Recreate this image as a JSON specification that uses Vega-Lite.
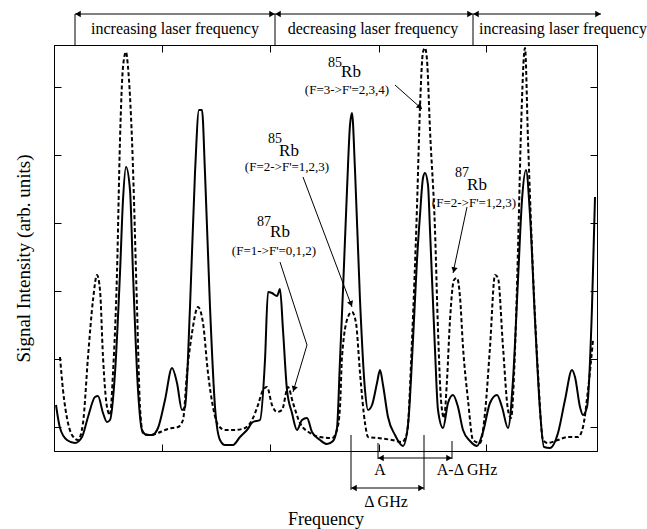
{
"$schema":"https://vega.github.io/schema/vega-lite/v6.json",
"width":543,"height":406,
"autosize":{"type":"none"},
"padding":{"left":54,"top":45,"right":50,"bottom":78},
"background":"white",
"config":{
 "view":{"stroke":"black","strokeWidth":1},
 "axis":{"domainColor":"black","tickColor":"black","domainWidth":1,"tickWidth":1,"labels":false,"grid":false,"titleFont":"Liberation Serif","titleFontWeight":"normal","titleColor":"black"}
},
"datasets":{
 "solid":[{"x":2,"y":46},{"x":6,"y":23},{"x":13,"y":11},{"x":21,"y":8},{"x":28,"y":14},{"x":34,"y":34},{"x":41,"y":54},{"x":44,"y":55},{"x":49,"y":38},{"x":53,"y":29},{"x":56,"y":31},{"x":61,"y":78},{"x":66,"y":178},{"x":69,"y":251},{"x":72,"y":284},{"x":76,"y":261},{"x":79,"y":178},{"x":84,"y":61},{"x":88,"y":21},{"x":93,"y":16},{"x":98,"y":16},{"x":104,"y":23},{"x":111,"y":51},{"x":118,"y":83},{"x":123,"y":68},{"x":128,"y":41},{"x":131,"y":44},{"x":136,"y":144},{"x":141,"y":278},{"x":145,"y":341},{"x":148,"y":341},{"x":151,"y":278},{"x":156,"y":144},{"x":161,"y":44},{"x":166,"y":11},{"x":171,"y":6},{"x":179,"y":6},{"x":186,"y":14},{"x":193,"y":21},{"x":199,"y":29},{"x":206,"y":31},{"x":211,"y":91},{"x":214,"y":159},{"x":218,"y":158},{"x":223,"y":155},{"x":226,"y":162},{"x":229,"y":121},{"x":233,"y":61},{"x":238,"y":38},{"x":243,"y":21},{"x":248,"y":31},{"x":253,"y":33},{"x":258,"y":19},{"x":266,"y":11},{"x":273,"y":7},{"x":279,"y":10},{"x":283,"y":23},{"x":286,"y":91},{"x":289,"y":161},{"x":293,"y":261},{"x":296,"y":326},{"x":298,"y":338},{"x":301,"y":281},{"x":306,"y":151},{"x":311,"y":61},{"x":314,"y":41},{"x":318,"y":46},{"x":323,"y":68},{"x":326,"y":81},{"x":329,"y":66},{"x":334,"y":34},{"x":341,"y":16},{"x":349,"y":5},{"x":354,"y":26},{"x":359,"y":111},{"x":363,"y":191},{"x":366,"y":236},{"x":369,"y":273},{"x":371,"y":278},{"x":374,"y":266},{"x":376,"y":221},{"x":381,"y":101},{"x":384,"y":41},{"x":389,"y":23},{"x":394,"y":48},{"x":399,"y":56},{"x":404,"y":44},{"x":409,"y":21},{"x":416,"y":10},{"x":423,"y":5},{"x":429,"y":19},{"x":436,"y":48},{"x":443,"y":56},{"x":448,"y":44},{"x":454,"y":23},{"x":459,"y":71},{"x":464,"y":171},{"x":468,"y":251},{"x":472,"y":281},{"x":476,"y":236},{"x":481,"y":131},{"x":486,"y":41},{"x":490,"y":4},{"x":496,"y":3},{"x":504,"y":18},{"x":511,"y":51},{"x":518,"y":81},{"x":521,"y":74},{"x":526,"y":44},{"x":529,"y":36},{"x":533,"y":44},{"x":538,"y":144},{"x":541,"y":254}],
 "dashed":[{"x":6,"y":94},{"x":9,"y":61},{"x":14,"y":28},{"x":18,"y":16},{"x":24,"y":11},{"x":29,"y":28},{"x":34,"y":94},{"x":39,"y":151},{"x":43,"y":176},{"x":46,"y":161},{"x":49,"y":94},{"x":53,"y":44},{"x":56,"y":36},{"x":59,"y":78},{"x":63,"y":178},{"x":66,"y":311},{"x":69,"y":384},{"x":72,"y":399},{"x":74,"y":384},{"x":78,"y":311},{"x":83,"y":144},{"x":86,"y":44},{"x":89,"y":18},{"x":96,"y":16},{"x":104,"y":18},{"x":111,"y":21},{"x":118,"y":23},{"x":124,"y":24},{"x":129,"y":31},{"x":133,"y":78},{"x":138,"y":118},{"x":144,"y":144},{"x":149,"y":128},{"x":154,"y":78},{"x":159,"y":44},{"x":164,"y":26},{"x":171,"y":21},{"x":181,"y":21},{"x":191,"y":23},{"x":198,"y":31},{"x":204,"y":46},{"x":209,"y":61},{"x":213,"y":64},{"x":218,"y":46},{"x":223,"y":39},{"x":228,"y":41},{"x":234,"y":64},{"x":239,"y":48},{"x":246,"y":28},{"x":256,"y":18},{"x":266,"y":14},{"x":278,"y":13},{"x":283,"y":21},{"x":286,"y":44},{"x":288,"y":94},{"x":294,"y":134},{"x":298,"y":139},{"x":302,"y":128},{"x":306,"y":78},{"x":311,"y":28},{"x":314,"y":14},{"x":324,"y":13},{"x":338,"y":11},{"x":348,"y":9},{"x":353,"y":18},{"x":358,"y":111},{"x":363,"y":244},{"x":366,"y":344},{"x":369,"y":399},{"x":371,"y":403},{"x":373,"y":391},{"x":376,"y":321},{"x":381,"y":221},{"x":384,"y":121},{"x":387,"y":51},{"x":390,"y":33},{"x":393,"y":71},{"x":396,"y":131},{"x":400,"y":171},{"x":403,"y":173},{"x":406,"y":154},{"x":409,"y":104},{"x":414,"y":51},{"x":419,"y":11},{"x":426,"y":8},{"x":431,"y":38},{"x":436,"y":104},{"x":441,"y":176},{"x":444,"y":173},{"x":449,"y":104},{"x":454,"y":41},{"x":457,"y":33},{"x":461,"y":101},{"x":464,"y":201},{"x":467,"y":321},{"x":471,"y":403},{"x":474,"y":311},{"x":479,"y":178},{"x":484,"y":78},{"x":489,"y":11},{"x":494,"y":8},{"x":504,"y":11},{"x":514,"y":14},{"x":524,"y":14},{"x":529,"y":24},{"x":534,"y":61},{"x":539,"y":111}],
 "rules":[{"x":21,"y":437,"x2":547,"y2":437},{"x":21,"y":437,"x2":21,"y2":406},{"x":221,"y":437,"x2":221,"y2":406},{"x":419,"y":437,"x2":419,"y2":406},
  {"x":341,"y":366,"x2":368,"y2":342},{"x":249,"y":274,"x2":298,"y2":144},{"x":226,"y":189,"x2":253,"y2":106},{"x":253,"y":106,"x2":239,"y2":59},{"x":413,"y":244,"x2":399,"y2":178},
  {"x":297,"y":16,"x2":297,"y2":-39},{"x":370,"y":16,"x2":370,"y2":-39},{"x":324,"y":8,"x2":324,"y2":-8},{"x":398,"y":10,"x2":398,"y2":-8},{"x":297,"y":-37,"x2":370,"y2":-37},{"x":324,"y":-7,"x2":398,"y2":-7}],
 "headsL":[{"x":24,"y":437},{"x":224,"y":437},{"x":422,"y":437},{"x":300,"y":-37},{"x":327,"y":-7}],
 "headsR":[{"x":218,"y":437},{"x":416,"y":437},{"x":544,"y":437},{"x":367,"y":-37},{"x":395,"y":-7}],
 "tip1":[{"x":366,"y":344}],
 "tip2":[{"x":297,"y":147}],
 "tip3":[{"x":240,"y":62}],
 "tip4":[{"x":400,"y":181}],
 "sup":[{"x":281,"y":388,"t":"85"},{"x":221,"y":312,"t":"85"},{"x":210,"y":229,"t":"87"},{"x":408,"y":278,"t":"87"}],
 "rb":[{"x":297,"y":379,"t":"Rb"},{"x":235,"y":300,"t":"Rb"},{"x":226,"y":219,"t":"Rb"},{"x":423,"y":266,"t":"Rb"}],
 "trans":[{"x":293,"y":361,"t":"(F=3->F'=2,3,4)"},{"x":233,"y":284,"t":"(F=2->F'=1,2,3)"},{"x":220,"y":200,"t":"(F=1->F'=0,1,2)"},{"x":420,"y":248,"t":"(F=2->F'=1,2,3)"}],
 "scan":[{"x":121,"y":422,"t":"increasing laser frequency"},{"x":319,"y":422,"t":"decreasing laser frequency"},{"x":509,"y":422,"t":"increasing laser frequency"}],
 "delta":[{"x":326,"y":-19,"t":"A"},{"x":413,"y":-19,"t":"A-Δ GHz"},{"x":332,"y":-51,"t":"Δ GHz"}]
},
"encoding":{
 "x":{"field":"x","type":"quantitative","scale":{"domain":[0,543],"nice":false,"zero":false},"axis":null},
 "y":{"field":"y","type":"quantitative","scale":{"domain":[0,406],"nice":false,"zero":false},"axis":null}
},
"layer":[
 {"data":{"name":"solid"},
  "mark":{"type":"line","color":"black","strokeWidth":2,"interpolate":"monotone"},
  "encoding":{
   "x":{"field":"x","type":"quantitative","scale":{"domain":[0,543],"nice":false,"zero":false},
        "axis":{"orient":"bottom","values":[108,216,325,432],"tickSize":-7,"title":"Frequency","titleFontSize":18,"titleY":73,"titleBaseline":"alphabetic"}},
   "y":{"field":"y","type":"quantitative","scale":{"domain":[0,406],"nice":false,"zero":false},
        "axis":{"orient":"left","values":[24,92,160,228,296,364],"tickSize":-7,"title":"Signal Intensity (arb. units)","titleFontSize":19,"titleX":-31,"titleY":213,"titleBaseline":"middle"}}
  }},
 {"data":{"name":"dashed"},
  "mark":{"type":"line","color":"black","strokeWidth":2,"strokeDash":[4,2.5],"interpolate":"monotone"},
  "encoding":{
   "x":{"field":"x","type":"quantitative","scale":{"domain":[0,543],"nice":false,"zero":false},
        "axis":{"orient":"top","values":[108,216,325,432],"tickSize":-7,"title":null}},
   "y":{"field":"y","type":"quantitative","scale":{"domain":[0,406],"nice":false,"zero":false},
        "axis":{"orient":"right","values":[24,92,160,228,296,364],"tickSize":-7,"title":null}}
  }},
 {"data":{"name":"rules"},
  "mark":{"type":"rule","color":"black","strokeWidth":1},
  "encoding":{"x2":{"field":"x2"},"y2":{"field":"y2"}}},
 {"data":{"name":"headsL"},"mark":{"type":"point","shape":"triangle-left","filled":true,"color":"black","opacity":1,"size":40},"encoding":{}},
 {"data":{"name":"headsR"},"mark":{"type":"point","shape":"triangle-right","filled":true,"color":"black","opacity":1,"size":40},"encoding":{}},
 {"data":{"name":"tip1"},"mark":{"type":"point","shape":"triangle-right","filled":true,"color":"black","opacity":1,"size":40,"angle":42},"encoding":{}},
 {"data":{"name":"tip2"},"mark":{"type":"point","shape":"triangle-right","filled":true,"color":"black","opacity":1,"size":40,"angle":69},"encoding":{}},
 {"data":{"name":"tip3"},"mark":{"type":"point","shape":"triangle-right","filled":true,"color":"black","opacity":1,"size":40,"angle":107},"encoding":{}},
 {"data":{"name":"tip4"},"mark":{"type":"point","shape":"triangle-right","filled":true,"color":"black","opacity":1,"size":40,"angle":102},"encoding":{}},
 {"data":{"name":"sup"},"mark":{"type":"text","font":"Liberation Serif","fontSize":14,"color":"black","align":"center","baseline":"middle"},"encoding":{"text":{"field":"t"}}},
 {"data":{"name":"rb"},"mark":{"type":"text","font":"Liberation Serif","fontSize":17,"color":"black","align":"center","baseline":"middle"},"encoding":{"text":{"field":"t"}}},
 {"data":{"name":"trans"},"mark":{"type":"text","font":"Liberation Serif","fontSize":13,"color":"black","align":"center","baseline":"middle"},"encoding":{"text":{"field":"t"}}},
 {"data":{"name":"scan"},"mark":{"type":"text","font":"Liberation Serif","fontSize":16,"color":"black","align":"center","baseline":"middle"},"encoding":{"text":{"field":"t"}}},
 {"data":{"name":"delta"},"mark":{"type":"text","font":"Liberation Serif","fontSize":16,"color":"black","align":"center","baseline":"middle"},"encoding":{"text":{"field":"t"}}}
],
"resolve":{"axis":{"x":"independent","y":"independent"}}
}
